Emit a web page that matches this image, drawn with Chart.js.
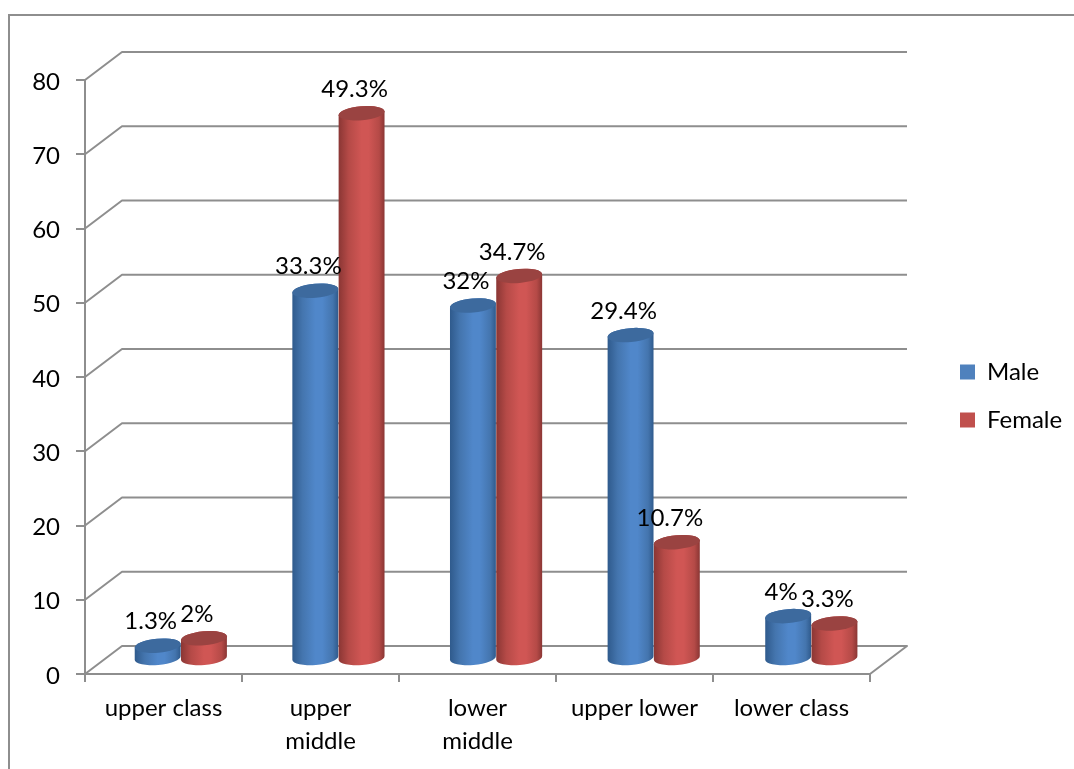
<!DOCTYPE html>
<html>
<head>
<meta charset="utf-8">
<style>html,body{margin:0;padding:0;background:#fff;overflow:hidden}canvas{display:block}</style>
<script src="https://cdn.jsdelivr.net/npm/chart.js@4"></script>
</head>
<body>
<canvas id="c" width="1074" height="769"></canvas>
<script>
const categories = [['upper class'], ['upper', 'middle'], ['lower', 'middle'], ['upper lower'], ['lower class']];
const maleValues = [2, 50, 48, 44, 6];
const femaleValues = [3, 74, 52, 16, 5];
const maleLabels = ['1.3%', '33.3%', '32%', '29.4%', '4%'];
const femaleLabels = ['2%', '49.3%', '34.7%', '10.7%', '3.3%'];
const yTicks = [0, 10, 20, 30, 40, 50, 60, 70, 80];

const FONT = 'Lato, "Noto Sans", sans-serif';
const FS = 24;
const GRID = '#8e8e8e';
const DEPTH_X = 37, DEPTH_Y = -28;
const BAR_DX = 17, BAR_X_STRETCH = 0.004, BASE_DY = -16, TOP_DY = -13.5, BAR_SCALE = 0.996;
const RX_RATIO = 0.5, RY = 7, TILT = -5 * Math.PI / 180;
const looks = [
  { edge: '#2f5a8c', near: '#4475ae', mid: '#5087ca', top: '#3d6a9e' },
  { edge: '#8a3634', near: '#b54a47', mid: '#d05654', top: '#9a4341' }
];
const dataLabels = [maleLabels, femaleLabels];

const wall = {
  id: 'wall',
  beforeDraw(chart) {
    const { ctx } = chart;
    ctx.save();
    ctx.strokeStyle = GRID;
    ctx.lineWidth = 2;
    ctx.beginPath();
    ctx.moveTo(9, 769); ctx.lineTo(9, 15); ctx.lineTo(1074, 15);
    ctx.stroke();
    ctx.restore();
  },
  beforeDatasetsDraw(chart) {
    const { ctx, chartArea: a, scales: { y } } = chart;
    ctx.save();
    ctx.strokeStyle = GRID;
    ctx.lineWidth = 2;
    ctx.lineJoin = 'round';
    y.ticks.forEach(t => {
      const py = y.getPixelForValue(t.value);
      ctx.beginPath();
      ctx.moveTo(a.left, py);
      ctx.lineTo(a.left + DEPTH_X, py + DEPTH_Y);
      ctx.lineTo(a.right + DEPTH_X, py + DEPTH_Y);
      if (t.value === 0) ctx.lineTo(a.right, py);
      ctx.stroke();
    });
    ctx.restore();
  },
  beforeDatasetDraw() { return false; },
  afterDatasetsDraw(chart) {
    const { ctx, chartArea: a, scales: { y } } = chart;
    const zero = y.getPixelForValue(0);
    const barX = el => el.x + BAR_DX + (el.x - a.left) * BAR_X_STRETCH;
    const barTop = el => zero + TOP_DY + (el.y - zero) * BAR_SCALE;
    ctx.save();
    chart.data.datasets.forEach((ds, i) => {
      const look = looks[i];
      chart.getDatasetMeta(i).data.forEach(el => {
        const cx = barX(el);
        const rx = el.width * RX_RATIO;
        const base = zero + BASE_DY;
        const top = barTop(el);
        const g = ctx.createLinearGradient(cx - rx, 0, cx + rx, 0);
        g.addColorStop(0, look.edge);
        g.addColorStop(0.22, look.near);
        g.addColorStop(0.5, look.mid);
        g.addColorStop(0.65, look.mid);
        g.addColorStop(0.88, look.near);
        g.addColorStop(1, look.edge);
        ctx.beginPath();
        ctx.ellipse(cx, base, rx, RY, TILT, 0, Math.PI);
        ctx.ellipse(cx, top, rx, RY, TILT, Math.PI, 0);
        ctx.closePath();
        ctx.fillStyle = g;
        ctx.fill();
        ctx.beginPath();
        ctx.ellipse(cx, top, rx, RY, TILT, 0, Math.PI * 2);
        ctx.fillStyle = look.top;
        ctx.fill();
      });
    });
    ctx.fillStyle = '#000';
    ctx.font = FS + 'px ' + FONT;
    ctx.textAlign = 'center';
    ctx.textBaseline = 'middle';
    chart.data.datasets.forEach((ds, i) => {
      chart.getDatasetMeta(i).data.forEach((el, j) => {
        ctx.fillText(dataLabels[i][j], barX(el) - 7, barTop(el) - 24);
      });
    });
    ctx.restore();
  },
  afterLayout(chart) {
    const l = chart.legend;
    if (!l) return;
    l.left = 936;
    l.right = 1074;
    l.top = 396 - 120;
    l.bottom = 396 + 120;
  }
};

const chart = new Chart(document.getElementById('c'), {
  type: 'bar',
  data: {
    labels: categories,
    datasets: [
      { label: 'Male', data: maleValues, backgroundColor: '#4f81bd', borderWidth: 0, categoryPercentage: 0.587, barPercentage: 1 },
      { label: 'Female', data: femaleValues, backgroundColor: '#c0504d', borderWidth: 0, categoryPercentage: 0.587, barPercentage: 1 }
    ]
  },
  options: {
    responsive: false,
    animation: false,
    devicePixelRatio: 1,
    layout: { padding: { left: 0, top: 80, right: 100, bottom: 0 } },
    plugins: {
      tooltip: { enabled: false },
      legend: {
        position: 'right',
        labels: {
          font: { family: FONT, size: FS },
          color: '#000',
          boxWidth: 15,
          boxHeight: 15,
          padding: 24
        }
      }
    },
    scales: {
      x: {
        offset: true,
        grid: { display: true, offset: true, drawOnChartArea: false, color: GRID, lineWidth: 2, tickLength: 8 },
        border: { display: true, color: GRID, width: 2 },
        ticks: { font: { family: FONT, size: FS, lineHeight: 1.38 }, color: '#000', padding: 10, maxRotation: 0, autoSkip: false },
        afterFit(s) { s.height = 769 - 674; }
      },
      y: {
        min: 0,
        max: 80,
        afterBuildTicks(s) { s.ticks = yTicks.map(v => ({ value: v })); },
        grid: { display: true, drawOnChartArea: false, color: GRID, lineWidth: 2, tickLength: 9 },
        border: { display: true, color: GRID, width: 2 },
        ticks: { font: { family: FONT, size: FS }, color: '#000', padding: 16, labelOffset: 2 },
        afterFit(s) { s.width = 85; }
      }
    }
  },
  plugins: [wall]
});
chart.options.layout.padding.right += chart.chartArea.right - 870;
chart.update('none');
</script>
</body>
</html>
